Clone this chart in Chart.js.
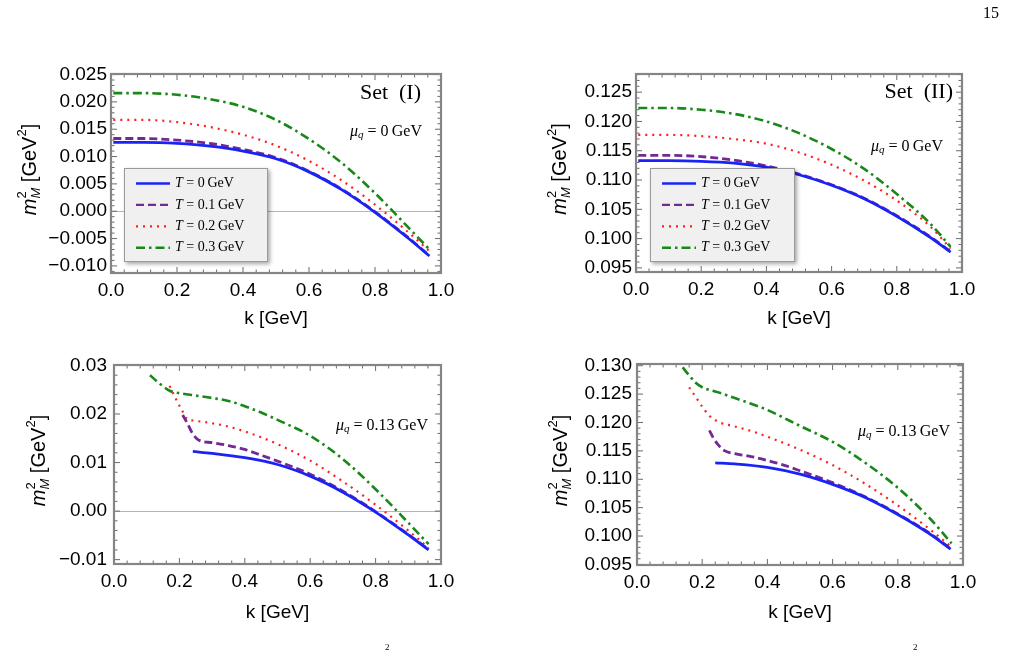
<!DOCTYPE html>
<html><head><meta charset="utf-8">
<script src="https://cdn.jsdelivr.net/npm/chart.js@4.4.1/dist/chart.umd.min.js"></script>
<style>
html,body{margin:0;padding:0;background:#fff;}
body{width:1010px;height:657px;overflow:hidden;position:relative;}
canvas{position:absolute;}
.txt{position:absolute;font-family:'Liberation Serif','Times New Roman',serif;color:#000;}
</style></head>
<body>
<canvas id="c1" width="505" height="340" style="left:0;top:0"></canvas>
<canvas id="c2" width="505" height="340" style="left:505px;top:0"></canvas>
<canvas id="c3" width="505" height="317" style="left:0;top:340px"></canvas>
<canvas id="c4" width="505" height="317" style="left:505px;top:340px"></canvas>
<div class="txt" style="left:983px;top:4px;font-size:16px;">15</div>
<div class="txt" style="left:385px;top:642px;font-size:9px;">2</div>
<div class="txt" style="left:913px;top:642px;font-size:9px;">2</div>
<script>
// ---------------- data ----------------
const seriesLabels = ['T = 0 GeV', 'T = 0.1 GeV', 'T = 0.2 GeV', 'T = 0.3 GeV'];
const xTicks = [0, 0.2, 0.4, 0.6, 0.8, 1.0];
const yTicksP1 = [-0.010, -0.005, 0, 0.005, 0.010, 0.015, 0.020, 0.025];
const yTicksP2 = [0.095, 0.100, 0.105, 0.110, 0.115, 0.120, 0.125];
const yTicksP3 = [-0.01, 0, 0.01, 0.02, 0.03];
const yTicksP4 = [0.095, 0.100, 0.105, 0.110, 0.115, 0.120, 0.125, 0.130];

// Panel 1: Set (I), mu_q = 0
const kP1 = [0.007, 0.1, 0.2, 0.3, 0.4, 0.5, 0.6, 0.7, 0.8, 0.9, 0.965];
const p1T0 = [0.0126, 0.0126, 0.0124, 0.0119, 0.0110, 0.0096, 0.0072, 0.0039, -0.0002, -0.0049, -0.0082];
const p1T1 = [0.0133, 0.0133, 0.0130, 0.0124, 0.0113, 0.0098, 0.0073, 0.0040, -0.0001, -0.0048, -0.0081];
const p1T2 = [0.0167, 0.0167, 0.0163, 0.0154, 0.0140, 0.0120, 0.0092, 0.0056, 0.0012, -0.0038, -0.0073];
const p1T3 = [0.0216, 0.0216, 0.0213, 0.0205, 0.0191, 0.0167, 0.0132, 0.0088, 0.0033, -0.0029, -0.0070];

// Panel 2: Set (II), mu_q = 0
const kP2 = [0.007, 0.1, 0.2, 0.3, 0.4, 0.5, 0.6, 0.7, 0.8, 0.9, 0.965];
const p2T0 = [0.1133, 0.1133, 0.1132, 0.1129, 0.1122, 0.1109, 0.1091, 0.1068, 0.1038, 0.1003, 0.0977];
const p2T1 = [0.1142, 0.1142, 0.1140, 0.1134, 0.1124, 0.1110, 0.1092, 0.1069, 0.1039, 0.1004, 0.0978];
const p2T2 = [0.1177, 0.1177, 0.1175, 0.1170, 0.1162, 0.1147, 0.1126, 0.1099, 0.1065, 0.1022, 0.0983];
const p2T3 = [0.1223, 0.1223, 0.1220, 0.1213, 0.1200, 0.1180, 0.1153, 0.1119, 0.1076, 0.1027, 0.0986];

// Panel 3: Set (I), mu_q = 0.13
const kP3T0 = [0.241, 0.3, 0.4, 0.5, 0.6, 0.7, 0.8, 0.9, 0.962];
const p3T0 = [0.0123, 0.0119, 0.0110, 0.0096, 0.0072, 0.0039, -0.0002, -0.0049, -0.0080];
const kP3T1 = [0.21, 0.225, 0.24, 0.26, 0.3, 0.35, 0.4, 0.45, 0.5, 0.6, 0.7, 0.8, 0.9, 0.962];
const p3T1 = [0.0198, 0.0180, 0.0160, 0.0146, 0.0141, 0.0135, 0.0127, 0.0115, 0.0103, 0.0076, 0.0041, -0.0001, -0.0048, -0.0079];
const kP3T2 = [0.17, 0.19, 0.21, 0.22, 0.25, 0.3, 0.35, 0.4, 0.45, 0.5, 0.6, 0.7, 0.8, 0.9, 0.962];
const p3T2 = [0.0258, 0.0230, 0.0205, 0.0192, 0.0186, 0.0181, 0.0174, 0.0164, 0.0152, 0.0138, 0.0104, 0.0061, 0.0013, -0.0040, -0.0076];
const kP3T3 = [0.11, 0.13, 0.15, 0.17, 0.2, 0.25, 0.3, 0.35, 0.4, 0.45, 0.5, 0.6, 0.7, 0.8, 0.9, 0.962];
const p3T3 = [0.0280, 0.0268, 0.0257, 0.0248, 0.0243, 0.0238, 0.0233, 0.0227, 0.0216, 0.0203, 0.0188, 0.0155, 0.0107, 0.0045, -0.0024, -0.0068];

// Panel 4: Set (II), mu_q = 0.13
const kP4T0 = [0.24, 0.3, 0.4, 0.5, 0.6, 0.7, 0.8, 0.9, 0.962];
const p4T0 = [0.1129, 0.1127, 0.1121, 0.1109, 0.1091, 0.1068, 0.1038, 0.1003, 0.0977];
const kP4T1 = [0.222, 0.235, 0.25, 0.27, 0.3, 0.35, 0.4, 0.45, 0.5, 0.6, 0.7, 0.8, 0.9, 0.962];
const p4T1 = [0.1186, 0.1172, 0.1160, 0.1150, 0.1145, 0.1140, 0.1133, 0.1125, 0.1115, 0.1094, 0.1069, 0.1039, 0.1004, 0.0978];
const kP4T2 = [0.16, 0.18, 0.2, 0.22, 0.25, 0.3, 0.35, 0.4, 0.5, 0.6, 0.7, 0.8, 0.9, 0.962];
const p4T2 = [0.1262, 0.1245, 0.1228, 0.1213, 0.1201, 0.1193, 0.1185, 0.1175, 0.1152, 0.1125, 0.1092, 0.1054, 0.1011, 0.0982];
const kP4T3 = [0.14, 0.16, 0.18, 0.2, 0.25, 0.3, 0.35, 0.4, 0.5, 0.6, 0.7, 0.8, 0.9, 0.965];
const p4T3 = [0.1297, 0.1283, 0.1270, 0.1262, 0.1253, 0.1243, 0.1233, 0.1222, 0.1194, 0.1166, 0.1129, 0.1085, 0.1030, 0.0987];

// ---------------- styles ----------------
const SANS = "'Liberation Sans', Arial, Helvetica, sans-serif";
const SERIF = "'Liberation Serif', 'Times New Roman', serif";
const styles = [
  {color: 'rgb(25,35,245)', width: 2.8, dash: []},
  {color: 'rgb(115,40,150)', width: 2.8, dash: [8, 4]},
  {color: 'rgb(255,30,30)', width: 2.2, dash: [2, 5]},
  {color: 'rgb(25,135,25)', width: 2.6, dash: [9, 4, 2.5, 4]},
];

// rich text helpers
function partsWidth(ctx, parts) {
  let w = 0;
  for (const p of parts) { ctx.font = p.f; if (!p.noAdv) w += ctx.measureText(p.t).width; }
  return w;
}
function drawRich(ctx, parts, x, y, align) {
  const w = partsWidth(ctx, parts);
  let cx = align === 'right' ? x - w : align === 'center' ? x - w / 2 : x;
  ctx.textBaseline = 'middle'; ctx.textAlign = 'left'; ctx.fillStyle = '#000';
  for (const p of parts) {
    ctx.font = p.f;
    ctx.fillText(p.t, cx, y + (p.dy || 0));
    if (!p.noAdv) cx += ctx.measureText(p.t).width;
  }
}
function muParts(val) {
  return [
    {t: 'μ', f: `italic 16px ${SERIF}`},
    {t: 'q', f: `italic 11px ${SERIF}`, dy: 3},
    {t: ' = ' + val + '\u2009GeV', f: `16px ${SERIF}`},
  ];
}
function legendParts(label) {
  return [
    {t: label.charAt(0), f: `italic 14px ${SERIF}`},
    {t: label.slice(1).replace(' GeV', '\u2009GeV'), f: `14px ${SERIF}`},
  ];
}
const yTitleParts = [
  {t: 'm', f: `italic 20px ${SANS}`},
  {t: '2', f: `13px ${SANS}`, dy: -8, noAdv: true},
  {t: 'M', f: `italic 13px ${SANS}`, dy: 6},
  {t: ' [GeV', f: `20px ${SANS}`},
  {t: '2', f: `13px ${SANS}`, dy: -8},
  {t: ']', f: `20px ${SANS}`},
];

function drawFrameTicks(ctx, chart) {
  const ca = chart.chartArea;
  const xs = chart.scales.x, ys = chart.scales.y;
  const majLen = 6, minLen = 3.5;
  ctx.strokeStyle = '#6a6a6a'; ctx.lineWidth = 1;
  function ticksFor(scale) {
    const maj = scale.ticks.map(t => t.value);
    const step = maj[1] - maj[0];
    const out = [];
    for (let v = maj[0] - step; v <= maj[maj.length - 1] + step + 1e-12; v += step) {
      const isMaj = maj.some(m => Math.abs(m - v) < step * 1e-3);
      out.push({v, major: isMaj});
      for (let j = 1; j < 5; j++) out.push({v: v + step * j / 5, major: false});
    }
    return out.filter(o => o.v >= scale.min - 1e-12 && o.v <= scale.max + 1e-12);
  }
  ctx.beginPath();
  for (const t of ticksFor(xs)) {
    const px = xs.getPixelForValue(t.v);
    const L = t.major ? majLen : minLen;
    ctx.moveTo(px, ca.bottom); ctx.lineTo(px, ca.bottom - L);
    ctx.moveTo(px, ca.top); ctx.lineTo(px, ca.top + L);
  }
  for (const t of ticksFor(ys)) {
    const py = ys.getPixelForValue(t.v);
    const L = t.major ? majLen : minLen;
    ctx.moveTo(ca.left, py); ctx.lineTo(ca.left + L, py);
    ctx.moveTo(ca.right, py); ctx.lineTo(ca.right - L, py);
  }
  ctx.stroke();
  ctx.strokeStyle = '#858585'; ctx.lineWidth = 2.2;
  ctx.strokeRect(ca.left, ca.top, ca.right - ca.left, ca.bottom - ca.top);
}

const panelDeco = {
  id: 'panelDeco',
  afterDatasetsDraw(chart, args, o) {
    const ctx = chart.ctx, ca = chart.chartArea;
    ctx.save();
    if (o.setLabel) drawRich(ctx, [{t: o.setLabel, f: `22px ${SERIF}`}], o.setX, o.setY, 'right');
    drawRich(ctx, muParts(o.mu), o.muX, o.muY, 'right');
    if (o.legend) {
      const L = o.legend;
      ctx.save();
      ctx.shadowColor = 'rgba(0,0,0,0.35)'; ctx.shadowBlur = 4; ctx.shadowOffsetX = 2; ctx.shadowOffsetY = 2;
      ctx.fillStyle = '#f0f0f0';
      ctx.fillRect(L.l, L.t, L.r - L.l, L.b - L.t);
      ctx.restore();
      ctx.strokeStyle = '#9a9a9a'; ctx.lineWidth = 1;
      ctx.strokeRect(L.l + 0.5, L.t + 0.5, L.r - L.l - 1, L.b - L.t - 1);
      chart.data.datasets.forEach((ds, i) => {
        const y = L.t + 15.5 + i * 21.4;
        ctx.save();
        ctx.strokeStyle = ds.borderColor; ctx.lineWidth = Math.min(ds.borderWidth, 2.4);
        ctx.setLineDash(ds.borderDash || []);
        ctx.beginPath(); ctx.moveTo(L.l + 12, y); ctx.lineTo(L.l + 46, y); ctx.stroke();
        ctx.restore();
        drawRich(ctx, legendParts(ds.label), L.l + 51, y, 'left');
      });
    }
    drawFrameTicks(ctx, chart);
    ctx.save();
    ctx.translate(o.yTitleX, (ca.top + ca.bottom) / 2 - 4);
    ctx.rotate(-Math.PI / 2);
    drawRich(ctx, yTitleParts, 0, 0, 'center');
    ctx.restore();
    ctx.restore();
  }
};

function fmt(v, d) { return v.toFixed(d).replace('-', '\u2212'); }

function mkPanel(id, c) {
  const datasets = c.series.map((s, i) => ({
    label: seriesLabels[i],
    data: s.k.map((k, j) => ({x: k, y: s.v[j]})),
    borderColor: styles[i].color, borderWidth: styles[i].width, borderDash: styles[i].dash,
    pointRadius: 0, fill: false, cubicInterpolationMode: 'monotone', borderCapStyle: 'butt'
  }));
  new Chart(document.getElementById(id), {
    type: 'line',
    data: {datasets},
    options: {
      responsive: false, animation: false, events: [],
      layout: {padding: {left: 0, top: c.padTop, right: c.padRight, bottom: 0}},
      plugins: {legend: {display: false}, tooltip: {enabled: false}, panelDeco: c.deco},
      scales: {
        x: {
          type: 'linear', min: 0, max: 1,
          afterBuildTicks: s => { s.ticks = xTicks.map(v => ({value: v})); },
          ticks: {callback: v => fmt(v, 1), font: {family: SANS, size: 19}, color: '#000', padding: 6, autoSkip: false, maxRotation: 0},
          grid: {display: false, drawTicks: false}, border: {display: false},
          title: {display: true, text: 'k [GeV]', color: '#000', font: {family: SANS, size: 19}, padding: {top: 0, bottom: c.xTitlePad}},
          afterFit: s => { s.height = c.xH; }
        },
        y: {
          type: 'linear', min: c.yMin, max: c.yMax,
          afterBuildTicks: s => { s.ticks = c.yTicks.map(v => ({value: v})); },
          ticks: {callback: v => fmt(v, c.dec), font: {family: SANS, size: 19}, color: '#000', padding: c.yPad, autoSkip: false},
          grid: {drawTicks: false, lineWidth: 1, color: ctx => (ctx.tick && Math.abs(ctx.tick.value) < 1e-9) ? '#b4b4b4' : 'rgba(0,0,0,0)'},
          border: {display: false},
          afterFit: s => { s.width = c.yW; }
        }
      }
    },
    plugins: [panelDeco]
  });
}

mkPanel('c1', {
  series: [{k: kP1, v: p1T0}, {k: kP1, v: p1T1}, {k: kP1, v: p1T2}, {k: kP1, v: p1T3}],
  yMin: -0.0113, yMax: 0.0251, yTicks: yTicksP1, dec: 3,
  padTop: 74, padRight: 64, yW: 111, xH: 67, xTitlePad: 10, yPad: 4,
  deco: {setLabel: 'Set\u2002(I)', setX: 421, setY: 93, mu: '0', muX: 422, muY: 132, yTitleX: 30,
         legend: {l: 124, t: 168, r: 268, b: 262}}
});
mkPanel('c2', {
  series: [{k: kP2, v: p2T0}, {k: kP2, v: p2T1}, {k: kP2, v: p2T2}, {k: kP2, v: p2T3}],
  yMin: 0.0943, yMax: 0.1281, yTicks: yTicksP2, dec: 3,
  padTop: 74, padRight: 48, yW: 131, xH: 68, xTitlePad: 10, yPad: 4,
  deco: {setLabel: 'Set\u2002(II)', setX: 448, setY: 92, mu: '0', muX: 438, muY: 147, yTitleX: 55,
         legend: {l: 145, t: 168, r: 290, b: 262}}
});
mkPanel('c3', {
  series: [{k: kP3T0, v: p3T0}, {k: kP3T1, v: p3T1}, {k: kP3T2, v: p3T2}, {k: kP3T3, v: p3T3}],
  yMin: -0.0109, yMax: 0.0301, yTicks: yTicksP3, dec: 2,
  padTop: 25, padRight: 64, yW: 114, xH: 93, xTitlePad: 33, yPad: 7,
  deco: {mu: '0.13', muX: 428, muY: 86, yTitleX: 39}
});
mkPanel('c4', {
  series: [{k: kP4T0, v: p4T0}, {k: kP4T1, v: p4T1}, {k: kP4T2, v: p4T2}, {k: kP4T3, v: p4T3}],
  yMin: 0.0949, yMax: 0.1303, yTicks: yTicksP4, dec: 3,
  padTop: 24, padRight: 47, yW: 132, xH: 92, xTitlePad: 33, yPad: 5,
  deco: {mu: '0.13', muX: 445, muY: 92, yTitleX: 56}
});
</script>
</body></html>
